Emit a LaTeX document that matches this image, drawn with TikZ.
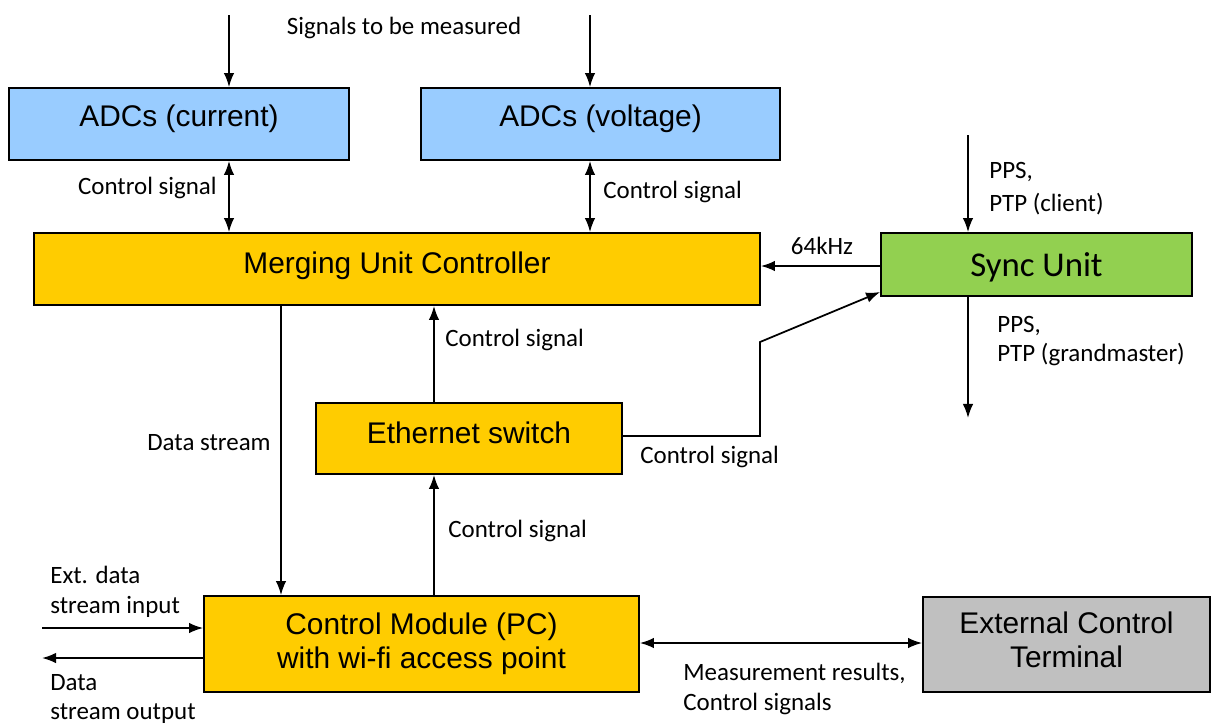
\documentclass[tikz,border=0pt]{standalone}
\usepackage{fontspec}
\setmainfont{Carlito}
\newfontfamily\boxfont{Liberation Sans}
\usetikzlibrary{arrows.meta}

\begin{document}
\begin{tikzpicture}[x=0.02cm,y=-0.02cm,
  every node/.style={inner sep=0pt},
  block/.style={draw,line width=1pt,font=\boxfont\fontsize{17}{19.3}\selectfont,align=center},
  lbl/.style={font=\fontsize{14.2}{17}\selectfont,align=left},
  arr/.style={line width=1pt,-{Latex[length=8pt,width=6pt]}},
  dbl/.style={line width=1pt,{Latex[length=8pt,width=6pt]}-{Latex[length=8pt,width=6pt]}}]
\useasboundingbox (0,0) rectangle (1211,725);

% blocks
\node[block,fill={rgb,255:red,153;green,204;blue,255},minimum width=340*0.02cm,minimum height=72*0.02cm,text depth=9.5pt] (adcI) at (179,124) {ADCs (current)};
\node[block,fill={rgb,255:red,153;green,204;blue,255},minimum width=359*0.02cm,minimum height=72*0.02cm,text depth=9.5pt] (adcU) at (600.5,124) {ADCs (voltage)};
\node[block,fill={rgb,255:red,255;green,204;blue,0},minimum width=726*0.02cm,minimum height=72*0.02cm,text depth=7.5pt] (muc) at (397,269) {Merging Unit Controller};
\node[block,fill={rgb,255:red,146;green,208;blue,80},minimum width=311*0.02cm,minimum height=63*0.02cm,font=\fontsize{19.8}{22}\selectfont,text depth=0pt] (sync) at (1036.5,264.5) {Sync Unit};
\node[block,fill={rgb,255:red,255;green,204;blue,0},minimum width=306*0.02cm,minimum height=71*0.02cm,text depth=7pt] (eth) at (469,438.5) {Ethernet switch};
\node[block,fill={rgb,255:red,255;green,204;blue,0},minimum width=435*0.02cm,minimum height=96*0.02cm] (cm) at (421.5,644) {Control Module (PC)\\with wi-fi access point};
\node[block,fill={rgb,255:red,192;green,192;blue,192},minimum width=287*0.02cm,minimum height=95*0.02cm,text depth=6pt] (ect) at (1066.5,644.5) {External Control\\Terminal};

% free ends
\coordinate (inI) at (229,15);
\coordinate (inU) at (590,15);
\coordinate (ppsIn) at (968,135);
\coordinate (ppsOut) at (968,418);
\coordinate (ds) at (281,0);
\coordinate (cs) at (434,0);
\coordinate (kink) at (760,342);
\coordinate (extIn) at (42,628);
\coordinate (extOut) at (42,658);

% connectors
\draw[arr] (inI) -- (inI |- adcI.north);
\draw[arr] (inU) -- (inU |- adcU.north);
\draw[dbl] (inI |- adcI.south) -- (inI |- muc.north);
\draw[dbl] (inU |- adcU.south) -- (inU |- muc.north);
\draw[arr] (sync.west |- 0,266) -- (muc.east |- 0,266);
\draw[arr] (ppsIn) -- (ppsIn |- sync.north);
\draw[arr] (ppsIn |- sync.south) -- (ppsOut);
\draw[arr] (ds |- muc.south) -- (ds |- cm.north);
\draw[arr] (cs |- eth.north) -- (cs |- muc.south);
\draw[arr] (cs |- cm.north) -- (cs |- eth.south);
\draw[arr] (eth.east |- 0,436) -- (kink |- 0,436) -- (kink) -- (sync.west |- 0,292);
\draw[dbl] (cm.east |- 0,643) -- (ect.west |- 0,643);
\draw[arr] (extIn) -- (extIn -| cm.west);
\draw[arr] (extOut -| cm.west) -- (extOut);

% labels
\node[lbl] (tSig) at (404,28) {Signals to be measured};
\node[lbl,anchor=east] (tCsI) at (217,188) {Control signal};
\node[lbl,anchor=west] (tCsU) at (603,192) {Control signal};
\node[lbl] (tClk) at (822,246) {64kHz};
\node[lbl,anchor=west,font=\fontsize{14.2}{18.7}\selectfont] (tPpsIn) at (989,189) {PPS,\\PTP (client)};
\node[lbl,anchor=west] (tPpsOut) at (997,341) {PPS,\\PTP (grandmaster)};
\node[lbl] (tDs) at (209,443) {Data stream};
\node[lbl,anchor=west] (tCsE) at (445,340) {Control signal};
\node[lbl,anchor=west] (tCsS) at (640,457) {Control signal};
\node[lbl,anchor=west] (tCsC) at (448,531) {Control signal};
\node[lbl,anchor=west] (tExtIn) at (50,592) {Ext. data\\stream input};
\node[lbl,anchor=west] (tExtOut) at (50,699) {Data\\stream output};
\node[lbl,anchor=west] (tRes) at (683,689) {Measurement results,\\Control signals};
\end{tikzpicture}
\end{document}
